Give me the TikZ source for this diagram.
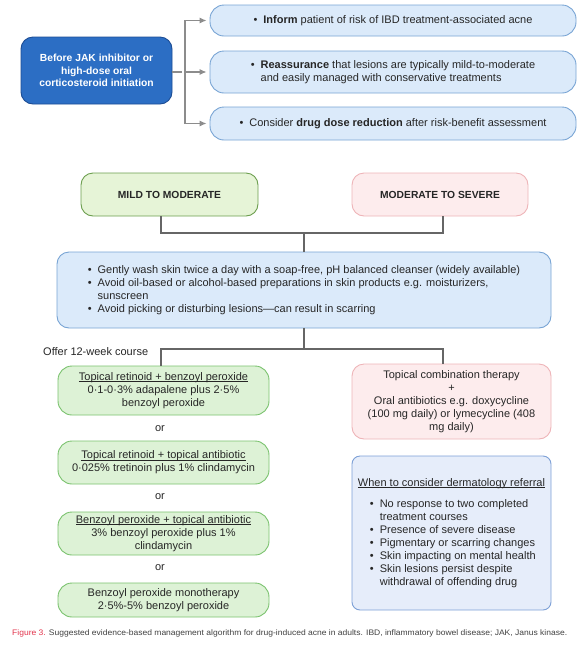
\documentclass[tikz,border=0pt]{standalone}
\usepackage{fontspec}
\setmainfont{Liberation Sans}
\usepackage{graphicx}
\usetikzlibrary{arrows.meta}

\newcommand{\bul}{\textbullet\hspace{6pt}}
\newcommand{\ulin}[1]{\setbox0\hbox{#1}\rlap{\rule[-1.6pt]{\wd0}{0.5pt}}\box0}

\begin{document}
\begin{tikzpicture}[x=1pt, y=-1pt, >={Latex[length=7pt,width=6pt]},
	every node/.style={font=\fontsize{11}{13}\selectfont, text=black!85, inner sep=2pt},
	box/.style={draw, line width=0.9pt, rounded corners=12pt, align=center},
	head/.style={font=\fontsize{10.3}{12.3}\selectfont\bfseries},
	link/.style={draw=black!60, line width=1.1pt},
	arrow/.style={draw=black!45, line width=1.1pt, ->, shorten >=3pt}]
			\definecolor{startfill}{RGB}{44,110,196}
			\definecolor{startline}{RGB}{28,76,148}
			\definecolor{infofill}{RGB}{219,234,250}
			\definecolor{infoline}{RGB}{120,164,212}
			\definecolor{mildfill}{RGB}{230,244,215}
			\definecolor{mildline}{RGB}{108,158,78}
			\definecolor{optfill}{RGB}{221,242,214}
			\definecolor{optline}{RGB}{122,194,110}
			\definecolor{sevfill}{RGB}{253,236,237}
			\definecolor{sevline}{RGB}{238,180,184}
			\definecolor{reffill}{RGB}{230,237,250}
			\definecolor{refline}{RGB}{125,160,214}
			\definecolor{figred}{RGB}{226,52,76}
			
				\useasboundingbox (0,0) rectangle (582,649);
				
				% before treatment
				\node[box, head, fill=startfill, draw=startline, text=white, minimum width=151, minimum height=67] (start) at (96.5,70.5)
					{Before JAK inhibitor or\\high-dose oral\\corticosteroid initiation};
				\node[box, fill=infofill, draw=infoline, rounded corners=14pt, minimum width=366, minimum height=31] (inform) at (393,20.5)
					{\bul\textbf{Inform} patient of risk of IBD treatment-associated acne};
				\node[box, fill=infofill, draw=infoline, rounded corners=14pt, minimum width=366, minimum height=42, align=left] (reassure) at (393,72)
					{\bul\textbf{Reassurance} that lesions are typically mild-to-moderate\\\hphantom{\bul}and easily managed with conservative treatments};
				\node[box, fill=infofill, draw=infoline, rounded corners=14pt, minimum width=366, minimum height=33] (reduce) at (393,123.5)
					{\bul Consider \textbf{drug dose reduction} after risk-benefit assessment};
				
				\coordinate (fork) at (185,72);
				\draw[arrow, -] (start.east |- fork) -- (fork);
				\draw[arrow] (fork) |- (inform.west);
				\draw[arrow] (fork) -- (reassure.west);
				\draw[arrow] (fork) |- (reduce.west);
				
				% severity
				\node[box, head, fill=mildfill, draw=mildline, minimum width=177, minimum height=43] (mild) at (169.5,194.5) {MILD TO MODERATE};
				\node[box, head, fill=sevfill, draw=sevline, minimum width=176, minimum height=43] (severe) at (440,194.5) {MODERATE TO SEVERE};
				
				\node[box, fill=infofill, draw=infoline, minimum width=494, minimum height=76, align=left] (care) at (304,290)
					{\bul Gently wash skin twice a day with a soap-free, pH balanced cleanser (widely available)\\
					 \bul Avoid oil-based or alcohol-based preparations in skin products e.g. moisturizers,\\
					 \hphantom{\bul}sunscreen\\
					 \bul Avoid picking or disturbing lesions—can result in scarring};
				
				\coordinate (lx) at (161,0);
				\coordinate (rx) at (443,0);
				\coordinate (joinA) at (304,233);
				\coordinate (joinB) at (304,349);
				\draw[link] (mild.south -| lx) |- (joinA) -| (severe.south -| rx);
				\draw[link] (joinA) -- (care.north -| joinA);
				
				% treatment options
				\node[anchor=west] (offer) at (41,352) {Offer 12-week course};
				\node[box, fill=optfill, draw=optline, rounded corners=14pt, minimum width=211, minimum height=49] (opt1) at (163.5,390.5)
					{\ulin{Topical retinoid + benzoyl peroxide}\\0·1-0·3\% adapalene plus 2·5\%\\benzoyl peroxide};
				\node (or1) at (160,429) {or};
				\node[box, fill=optfill, draw=optline, rounded corners=14pt, minimum width=211, minimum height=43] (opt2) at (163.5,462.5)
					{\ulin{Topical retinoid + topical antibiotic}\\0·025\% tretinoin plus 1\% clindamycin};
				\node (or2) at (160,497) {or};
				\node[box, fill=optfill, draw=optline, rounded corners=14pt, minimum width=211, minimum height=43] (opt3) at (163.5,533.5)
					{\ulin{Benzoyl peroxide + topical antibiotic}\\3\% benzoyl peroxide plus 1\%\\clindamycin};
				\node (or3) at (160,568) {or};
				\node[box, fill=optfill, draw=optline, rounded corners=14pt, minimum width=211, minimum height=34] (opt4) at (163.5,600)
					{Benzoyl peroxide monotherapy\\2·5\%-5\% benzoyl peroxide};
				
				\node[box, fill=sevfill, draw=sevline, minimum width=199, minimum height=75] (combo) at (451.5,401.5)
					{Topical combination therapy\\+\\Oral antibiotics e.g. doxycycline\\(100 mg daily) or lymecycline (408\\mg daily)};
				
				\draw[link] (care.south -| joinB) -- (joinB);
				\draw[link] (opt1.north -| lx) |- (joinB) -| (combo.north -| rx);
				
				% referral
				\node[box, fill=reffill, draw=refline, rounded corners=8pt, minimum width=199, minimum height=154, align=left] (refer) at (451.5,533)
					{\ulin{When to consider dermatology referral}\\[8pt]
					 \hspace*{12pt}\bul No response to two completed\\
					 \hspace*{12pt}\hphantom{\bul}treatment courses\\
					 \hspace*{12pt}\bul Presence of severe disease\\
					 \hspace*{12pt}\bul Pigmentary or scarring changes\\
					 \hspace*{12pt}\bul Skin impacting on mental health\\
					 \hspace*{12pt}\bul Skin lesions persist despite\\
					 \hspace*{12pt}\hphantom{\bul}withdrawal of offending drug};
				
				% caption
				\node[anchor=west, inner sep=0pt] (caption) at (12,633)
					{\resizebox{555pt}{\height}{\fontsize{8}{9}\selectfont\textcolor{figred}{Figure 3.} \textcolor{black!75}{Suggested evidence-based management algorithm for drug-induced acne in adults. IBD, inflammatory bowel disease; JAK, Janus kinase.}}};
		\end{tikzpicture}
\end{document}
